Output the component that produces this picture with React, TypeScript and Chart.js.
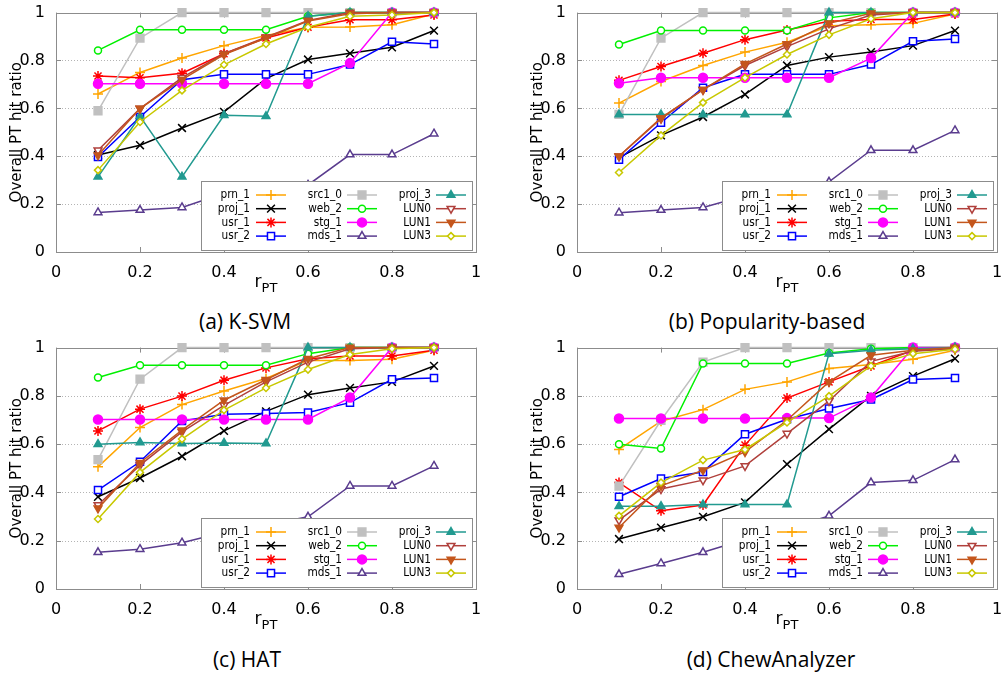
import React, { useEffect, useRef } from 'react';
import { Chart, registerables } from 'chart.js';
import { drawPoint } from 'chart.js/helpers';

Chart.register(...registerables);

// ---------- data ----------
const rPT = [0.1, 0.2, 0.3, 0.4, 0.5, 0.6, 0.7, 0.8, 0.9];
const xTicks = [0, 0.2, 0.4, 0.6, 0.8, 1];
const xTickLabels = ['0', '0.2', '0.4', '0.6', '0.8', '1'];
const yTicks = [0, 0.2, 0.4, 0.6, 0.8, 1];
const yTickLabels = ['0', '0.2', '0.4', '0.6', '0.8', '1'];
const seriesNames = ['prn_1', 'proj_1', 'usr_1', 'usr_2', 'src1_0', 'web_2', 'stg_1', 'mds_1', 'proj_3', 'LUN0', 'LUN1', 'LUN3'];
const yTitle = 'Overall PT hit ratio';

// (a) K-SVM
const ksvm_prn_1 = [0.66, 0.75, 0.81, 0.862, 0.904, 0.939, 0.94, 0.949, 0.994];
const ksvm_proj_1 = [0.405, 0.446, 0.518, 0.585, 0.724, 0.804, 0.83, 0.855, 0.925];
const ksvm_usr_1 = [0.735, 0.728, 0.747, 0.828, 0.894, 0.939, 0.97, 0.97, 0.99];
const ksvm_usr_2 = [0.397, 0.564, 0.72, 0.742, 0.742, 0.742, 0.783, 0.878, 0.869];
const ksvm_src1_0 = [0.59, 0.893, 1, 1, 1, 1, 1, 1, 1];
const ksvm_web_2 = [0.842, 0.928, 0.928, 0.928, 0.928, 0.985, 1, 1, 1];
const ksvm_stg_1 = [0.703, 0.703, 0.703, 0.703, 0.703, 0.703, 0.789, 1, 1];
const ksvm_mds_1 = [0.165, 0.175, 0.186, 0.245, 0.26, 0.28, 0.407, 0.407, 0.494];
const ksvm_proj_3 = [0.314, 0.567, 0.314, 0.571, 0.567, 0.985, 1, 1, 1];
const ksvm_LUN0 = [0.425, 0.599, 0.728, 0.828, 0.897, 0.967, 1, 1, 1];
const ksvm_LUN1 = [0.404, 0.599, 0.72, 0.825, 0.894, 0.965, 0.995, 1, 1];
const ksvm_LUN3 = [0.342, 0.543, 0.675, 0.782, 0.869, 0.939, 0.985, 0.99, 1];

// (b) Popularity-based
const pop_prn_1 = [0.622, 0.712, 0.779, 0.835, 0.876, 0.945, 0.949, 0.955, 0.994];
const pop_proj_1 = [0.394, 0.487, 0.564, 0.658, 0.779, 0.814, 0.835, 0.862, 0.925];
const pop_usr_1 = [0.717, 0.775, 0.83, 0.887, 0.927, 0.964, 0.971, 0.971, 0.994];
const pop_usr_2 = [0.386, 0.54, 0.686, 0.742, 0.742, 0.742, 0.783, 0.88, 0.89];
const pop_src1_0 = [0.575, 0.893, 1, 1, 1, 1, 1, 1, 1];
const pop_web_2 = [0.867, 0.925, 0.925, 0.925, 0.925, 0.978, 1, 1, 1];
const pop_stg_1 = [0.705, 0.728, 0.728, 0.728, 0.728, 0.728, 0.81, 1, 1];
const pop_mds_1 = [0.164, 0.175, 0.186, 0.235, 0.265, 0.293, 0.425, 0.425, 0.508];
const pop_proj_3 = [0.574, 0.574, 0.574, 0.574, 0.574, 1, 1, 1, 1];
const pop_LUN0 = [0.4, 0.557, 0.678, 0.779, 0.858, 0.932, 0.99, 1, 1];
const pop_LUN1 = [0.4, 0.56, 0.678, 0.786, 0.869, 0.955, 0.997, 1, 1];
const pop_LUN3 = [0.332, 0.487, 0.624, 0.728, 0.825, 0.907, 0.974, 1, 1];

// (c) HAT
const hat_prn_1 = [0.506, 0.669, 0.764, 0.82, 0.872, 0.947, 0.947, 0.952, 0.989];
const hat_proj_1 = [0.382, 0.46, 0.55, 0.655, 0.736, 0.805, 0.833, 0.858, 0.924];
const hat_usr_1 = [0.655, 0.745, 0.799, 0.865, 0.916, 0.954, 0.965, 0.965, 0.989];
const hat_usr_2 = [0.41, 0.527, 0.696, 0.724, 0.727, 0.731, 0.772, 0.869, 0.874];
const hat_src1_0 = [0.536, 0.869, 1, 1, 1, 1, 1, 1, 1];
const hat_web_2 = [0.876, 0.927, 0.927, 0.927, 0.927, 0.975, 1, 1, 1];
const hat_stg_1 = [0.702, 0.702, 0.702, 0.702, 0.702, 0.702, 0.793, 1, 1];
const hat_mds_1 = [0.152, 0.165, 0.192, 0.235, 0.265, 0.299, 0.427, 0.427, 0.51];
const hat_proj_3 = [0.6, 0.607, 0.603, 0.605, 0.603, 1, 1, 1, 1];
const hat_LUN0 = [0.348, 0.513, 0.651, 0.761, 0.858, 0.94, 0.995, 1, 1];
const hat_LUN1 = [0.334, 0.523, 0.658, 0.782, 0.867, 0.954, 1, 1, 1];
const hat_LUN3 = [0.29, 0.483, 0.621, 0.741, 0.833, 0.909, 0.971, 0.995, 1];

// (d) ChewAnalyzer
const chew_prn_1 = [0.578, 0.695, 0.743, 0.827, 0.858, 0.913, 0.93, 0.952, 0.989];
const chew_proj_1 = [0.207, 0.254, 0.299, 0.359, 0.517, 0.662, 0.8, 0.882, 0.954];
const chew_usr_1 = [0.441, 0.324, 0.348, 0.596, 0.791, 0.858, 0.924, 0.989, 1];
const chew_usr_2 = [0.382, 0.458, 0.485, 0.641, 0.703, 0.748, 0.785, 0.868, 0.874];
const chew_src1_0 = [0.426, 0.699, 0.94, 1, 1, 1, 1, 1, 1];
const chew_web_2 = [0.6, 0.582, 0.934, 0.934, 0.934, 0.978, 0.995, 1, 1];
const chew_stg_1 = [0.706, 0.706, 0.706, 0.706, 0.708, 0.708, 0.793, 1, 1];
const chew_mds_1 = [0.061, 0.106, 0.152, 0.205, 0.25, 0.303, 0.441, 0.45, 0.536];
const chew_proj_3 = [0.343, 0.343, 0.35, 0.35, 0.35, 0.975, 0.989, 0.995, 1];
const chew_LUN0 = [0.285, 0.414, 0.451, 0.51, 0.644, 0.779, 0.943, 0.985, 0.995];
const chew_LUN1 = [0.255, 0.427, 0.492, 0.568, 0.699, 0.858, 0.968, 0.989, 1];
const chew_LUN3 = [0.303, 0.441, 0.534, 0.578, 0.69, 0.799, 0.924, 0.975, 0.993];

// ---------- styles ----------
type MarkStyle = { color: string; point: string; filled: boolean; rotation: number; radius: number };
const markStyles: MarkStyle[] = [
  { color: '#ffa500', point: 'cross', filled: false, rotation: 0, radius: 5 },
  { color: '#000000', point: 'crossRot', filled: false, rotation: 0, radius: 5.5 },
  { color: '#ff0000', point: 'star', filled: false, rotation: 0, radius: 5 },
  { color: '#0000ff', point: 'rect', filled: false, rotation: 0, radius: 5 },
  { color: '#c0c0c0', point: 'rect', filled: true, rotation: 0, radius: 5.5 },
  { color: '#00f000', point: 'circle', filled: false, rotation: 0, radius: 3.5 },
  { color: '#ff00ff', point: 'circle', filled: true, rotation: 0, radius: 4.5 },
  { color: '#5a3c8e', point: 'triangle', filled: false, rotation: 0, radius: 4.5 },
  { color: '#229a90', point: 'triangle', filled: true, rotation: 0, radius: 4.5 },
  { color: '#b0403c', point: 'triangle', filled: false, rotation: 180, radius: 4.5 },
  { color: '#c4561c', point: 'triangle', filled: true, rotation: 180, radius: 4.5 },
  { color: '#c8c800', point: 'rectRot', filled: false, rotation: 0, radius: 3.5 },
];

type PanelDef = {
  caption: string;
  left: number;
  top: number;
  height: number;
  captionX: number;
  captionY: number;
  values: number[][];
};

const panels: PanelDef[] = [
  {
    caption: '(a) K-SVM', left: 0, top: 0, height: 300, captionX: 245, captionY: 321,
    values: [ksvm_prn_1, ksvm_proj_1, ksvm_usr_1, ksvm_usr_2, ksvm_src1_0, ksvm_web_2, ksvm_stg_1, ksvm_mds_1, ksvm_proj_3, ksvm_LUN0, ksvm_LUN1, ksvm_LUN3],
  },
  {
    caption: '(b) Popularity-based', left: 521, top: 0, height: 300, captionX: 767, captionY: 321,
    values: [pop_prn_1, pop_proj_1, pop_usr_1, pop_usr_2, pop_src1_0, pop_web_2, pop_stg_1, pop_mds_1, pop_proj_3, pop_LUN0, pop_LUN1, pop_LUN3],
  },
  {
    caption: '(c) HAT', left: 0, top: 335, height: 302, captionX: 247, captionY: 659,
    values: [hat_prn_1, hat_proj_1, hat_usr_1, hat_usr_2, hat_src1_0, hat_web_2, hat_stg_1, hat_mds_1, hat_proj_3, hat_LUN0, hat_LUN1, hat_LUN3],
  },
  {
    caption: '(d) ChewAnalyzer', left: 521, top: 335, height: 302, captionX: 771, captionY: 659,
    values: [chew_prn_1, chew_proj_1, chew_usr_1, chew_usr_2, chew_src1_0, chew_web_2, chew_stg_1, chew_mds_1, chew_proj_3, chew_LUN0, chew_LUN1, chew_LUN3],
  },
];

const CANVAS_W = 500;
const FONT = '"DejaVu Sans", sans-serif';

const decorPlugin = {
  id: 'decor',
  beforeDatasetsDraw(chart: any) {
    const { ctx, chartArea, scales } = chart;
    const { left, right, top, bottom } = chartArea;
    const ys = scales.y;
    const xs = scales.x;
    ctx.save();
    // dotted horizontal grid
    ctx.strokeStyle = '#b4b4b4';
    ctx.lineWidth = 1;
    ctx.setLineDash([1, 2]);
    yTicks.forEach((v) => {
      if (v <= 0 || v >= 1) return;
      const py = Math.round(ys.getPixelForValue(v)) + 0.5;
      ctx.beginPath();
      ctx.moveTo(left, py);
      ctx.lineTo(right, py);
      ctx.stroke();
    });
    ctx.setLineDash([]);
    // frame
    ctx.strokeStyle = '#8c8c8c';
    ctx.lineWidth = 1;
    ctx.strokeRect(Math.round(left) + 0.5, Math.round(top) + 0.5, Math.round(right - left), Math.round(bottom - top));
    // inward ticks
    const tl = 5;
    yTicks.forEach((v) => {
      const py = Math.round(ys.getPixelForValue(v)) + 0.5;
      ctx.beginPath();
      ctx.moveTo(left, py);
      ctx.lineTo(left + tl, py);
      ctx.moveTo(right, py);
      ctx.lineTo(right - tl, py);
      ctx.stroke();
    });
    xTicks.forEach((v) => {
      const px = Math.round(xs.getPixelForValue(v)) + 0.5;
      ctx.beginPath();
      ctx.moveTo(px, bottom);
      ctx.lineTo(px, bottom - tl);
      ctx.moveTo(px, top);
      ctx.lineTo(px, top + tl);
      ctx.stroke();
    });
    ctx.restore();
  },
  afterDatasetsDraw(chart: any) {
    const { ctx, chartArea } = chart;
    const { left, bottom } = chartArea;
    ctx.save();
    // legend box
    const bx = Math.round(left + 145) + 0.5;
    const by = Math.round(bottom - 71) + 0.5;
    ctx.fillStyle = '#ffffff';
    ctx.fillRect(bx, by, 271, 69);
    ctx.strokeStyle = '#8c8c8c';
    ctx.lineWidth = 1;
    ctx.strokeRect(bx, by, 271, 69);
    const textRight = [194, 286, 375];
    const lineStart = [200, 291, 380];
    const lineLen = 30;
    const sx = 0.88;
    seriesNames.forEach((name, i) => {
      const col = Math.floor(i / 4);
      const row = i % 4;
      const y = bottom - 57 + row * 13.7;
      const st = markStyles[i];
      // text (slightly condensed)
      ctx.save();
      ctx.font = '12px ' + FONT;
      ctx.textAlign = 'right';
      ctx.textBaseline = 'middle';
      ctx.fillStyle = '#000000';
      ctx.translate(left + textRight[col], y);
      ctx.scale(sx, 1);
      ctx.fillText(name, 0, 0);
      ctx.restore();
      const x0 = left + lineStart[col];
      ctx.strokeStyle = st.color;
      ctx.lineWidth = 1.5;
      ctx.beginPath();
      ctx.moveTo(x0, y);
      ctx.lineTo(x0 + lineLen, y);
      ctx.stroke();
      ctx.fillStyle = st.filled ? st.color : '#ffffff';
      ctx.strokeStyle = st.color;
      ctx.lineWidth = 1.5;
      drawPoint(ctx, { pointStyle: st.point as any, rotation: st.rotation, radius: st.radius, borderWidth: 1.5 }, x0 + lineLen / 2, y);
    });
    ctx.restore();
  },
  afterDraw(chart: any) {
    const { ctx, chartArea } = chart;
    const { left, right, top, bottom } = chartArea;
    ctx.save();
    ctx.fillStyle = '#000000';
    // y title
    ctx.font = '15px ' + FONT;
    ctx.textAlign = 'center';
    ctx.textBaseline = 'middle';
    ctx.translate(17, (top + bottom) / 2);
    ctx.rotate(-Math.PI / 2);
    ctx.fillText(yTitle, 0, 0);
    ctx.setTransform(1, 0, 0, 1, 0, 0);
    // x title r_PT
    ctx.textAlign = 'left';
    ctx.textBaseline = 'alphabetic';
    ctx.font = '17px ' + FONT;
    const wR = ctx.measureText('r').width;
    ctx.font = '13px ' + FONT;
    const wS = ctx.measureText('PT').width;
    const cx = (left + right) / 2;
    const x0 = cx - (wR + wS) / 2;
    ctx.font = '17px ' + FONT;
    ctx.fillText('r', x0, bottom + 35);
    ctx.font = '13px ' + FONT;
    ctx.fillText('PT', x0 + wR, bottom + 40);
    ctx.restore();
  },
};

function Panel({ p }: { p: PanelDef }) {
  const ref = useRef<HTMLCanvasElement>(null);
  useEffect(() => {
    if (!ref.current) return;
    const datasets = seriesNames.map((name, i) => {
      const st = markStyles[i];
      return {
        label: name,
        data: rPT.map((x, j) => ({ x, y: p.values[i][j] })),
        borderColor: st.color,
        backgroundColor: st.filled ? st.color : '#ffffff',
        pointStyle: st.point,
        pointRadius: st.radius,
        pointRotation: st.rotation,
        pointBorderColor: st.color,
        pointBackgroundColor: st.filled ? st.color : '#ffffff',
        pointBorderWidth: 1.5,
        borderWidth: 1.5,
        tension: 0,
        fill: false,
        clip: 10,
        order: seriesNames.length - i,
      };
    });
    const chart = new Chart(ref.current, {
      type: 'line',
      data: { datasets } as any,
      options: {
        responsive: false,
        animation: false,
        devicePixelRatio: 1,
        layout: { padding: { top: 12, right: 24, left: 0, bottom: 0 } },
        plugins: { legend: { display: false }, tooltip: { enabled: false }, title: { display: false } },
        scales: {
          x: {
            type: 'linear',
            min: 0,
            max: 1,
            grid: { display: false },
            border: { display: false },
            afterBuildTicks: (s: any) => { s.ticks = xTicks.map((v) => ({ value: v })); },
            afterFit: (s: any) => { s.height = 48; },
            ticks: {
              autoSkip: false,
              maxRotation: 0,
              padding: 3,
              color: '#000000',
              font: { size: 16, family: FONT },
              callback: (_v: any, idx: number) => xTickLabels[idx],
            },
          },
          y: {
            type: 'linear',
            min: 0,
            max: 1,
            grid: { display: false },
            border: { display: false },
            afterBuildTicks: (s: any) => { s.ticks = yTicks.map((v) => ({ value: v })); },
            afterFit: (s: any) => { s.width = 56; },
            ticks: {
              autoSkip: false,
              padding: 3,
              color: '#000000',
              font: { size: 16, family: FONT },
              callback: (_v: any, idx: number) => yTickLabels[idx],
            },
          },
        },
      } as any,
      plugins: [decorPlugin],
    });
    return () => chart.destroy();
  }, [p]);
  return (
    <>
      <canvas
        ref={ref}
        width={CANVAS_W}
        height={p.height}
        style={{ position: 'absolute', left: p.left, top: p.top, width: CANVAS_W, height: p.height }}
      />
      <div
        style={{
          position: 'absolute',
          left: p.captionX - 200,
          top: p.captionY - 13,
          width: 400,
          lineHeight: '26px',
          textAlign: 'center',
          fontFamily: '"Open Sans", sans-serif',
          fontSize: 21,
          color: '#000',
        }}
      >
        {p.caption}
      </div>
    </>
  );
}

export default function App() {
  return (
    <div style={{ position: 'absolute', left: 0, top: 0, width: 1007, height: 673, background: '#ffffff', overflow: 'hidden' }}>
      {panels.map((p) => (
        <Panel key={p.caption} p={p} />
      ))}
    </div>
  );
}
